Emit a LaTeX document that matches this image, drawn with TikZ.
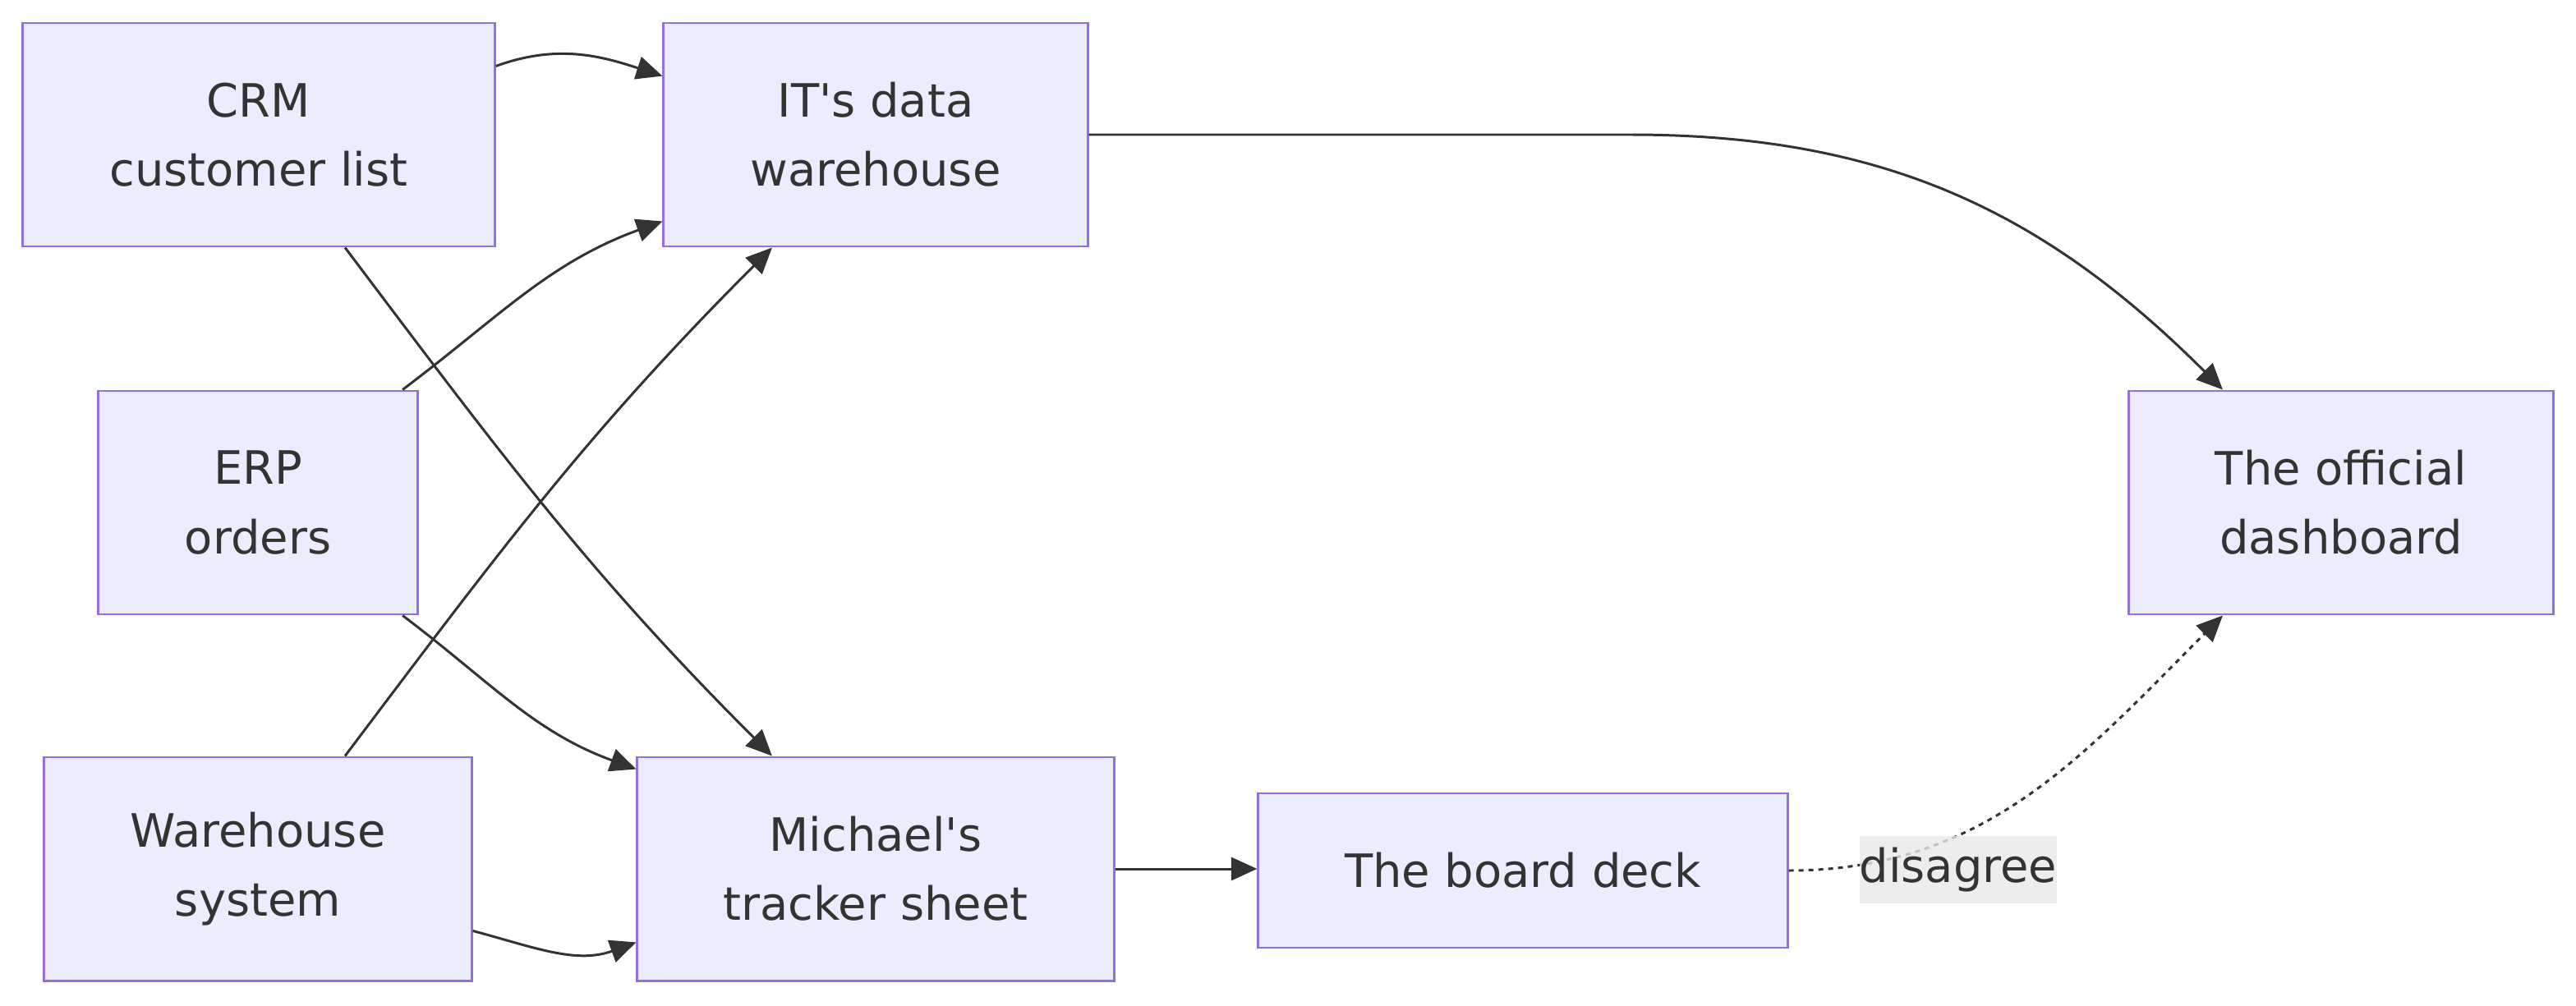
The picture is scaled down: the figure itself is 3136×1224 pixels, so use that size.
\documentclass[tikz,border=0pt]{standalone}
\usepackage{fontspec}
\setmainfont{DejaVu Sans}[Ligatures=TeXOff]
\usetikzlibrary{arrows.meta}
\definecolor{boxfill}{HTML}{ECECFF}
\definecolor{boxline}{HTML}{9370DB}
\definecolor{ink}{HTML}{333333}
\definecolor{lblfill}{HTML}{E8E8E8}
\begin{document}
\begin{tikzpicture}[x=0.01cm,y=-0.01cm,
  box/.style={draw=boxline,fill=boxfill,line width=0.8pt,text=ink,align=center,
    inner sep=0pt,minimum height=2.72cm,
    font=\fontsize{15.9}{23.9}\selectfont},
  flow/.style={draw=ink,line width=0.85pt,-{Triangle[length=9pt,width=8pt]}},
  dotflow/.style={flow,dash pattern=on 0.06cm off 0.06cm},
  lbl/.style={fill=lblfill,fill opacity=0.8,text opacity=1,text=ink,inner sep=0pt,
    minimum width=2.4cm,minimum height=0.82cm,font=\fontsize{15.9}{23.9}\selectfont}]
\useasboundingbox (0,0) rectangle (3136,1224);
\node[box,minimum width=5.74cm] (crm) at (315,164) {CRM\\customer list};
\node[box,minimum width=5.16cm] (it) at (1066,164) {IT's data\\warehouse};
\node[box,minimum width=3.88cm] (erp) at (314,612) {ERP\\orders};
\node[box,minimum width=5.20cm] (wh) at (314,1058) {Warehouse\\system};
\node[box,minimum width=5.80cm] (mich) at (1066,1058) {Michael's\\tracker sheet};
\node[box,minimum width=6.44cm,minimum height=1.88cm] (board) at (1854,1060) {The board deck};
\node[box,minimum width=5.16cm] (off) at (2850,612) {The official\\dashboard};

\draw[flow] ([yshift=-0.54cm]crm.north east) to[out=20,in=162] ([yshift=-0.66cm]it.north west);
\draw[flow] ([xshift=1.05cm]crm.south) to[out=-53,in=135] ([xshift=-1.26cm]mich.north);
\draw[flow] ([xshift=1.76cm]erp.north) to[out=37,in=200] ([yshift=0.32cm]it.south west);
\draw[flow] ([xshift=1.76cm]erp.south) to[out=-37,in=160] ([yshift=-0.16cm]mich.north west);
\draw[flow] ([xshift=1.06cm]wh.north) to[out=53,in=-135] ([xshift=-1.26cm]it.south);
\draw[flow] ([yshift=0.62cm]wh.south east) to[out=-15,in=200] ([yshift=0.48cm]mich.south west);
\draw[flow] (mich.east) -- (mich.east -| board.west);
\draw[flow] (it.east) -- ++(660,0) to[out=0,in=135] ([xshift=-1.44cm]off.north);
\draw[dotflow] (board.east) to[out=0,in=225] ([xshift=-1.44cm]off.south);
\node[lbl] (dis) at (2384,1059) {disagree};
\end{tikzpicture}
\end{document}
